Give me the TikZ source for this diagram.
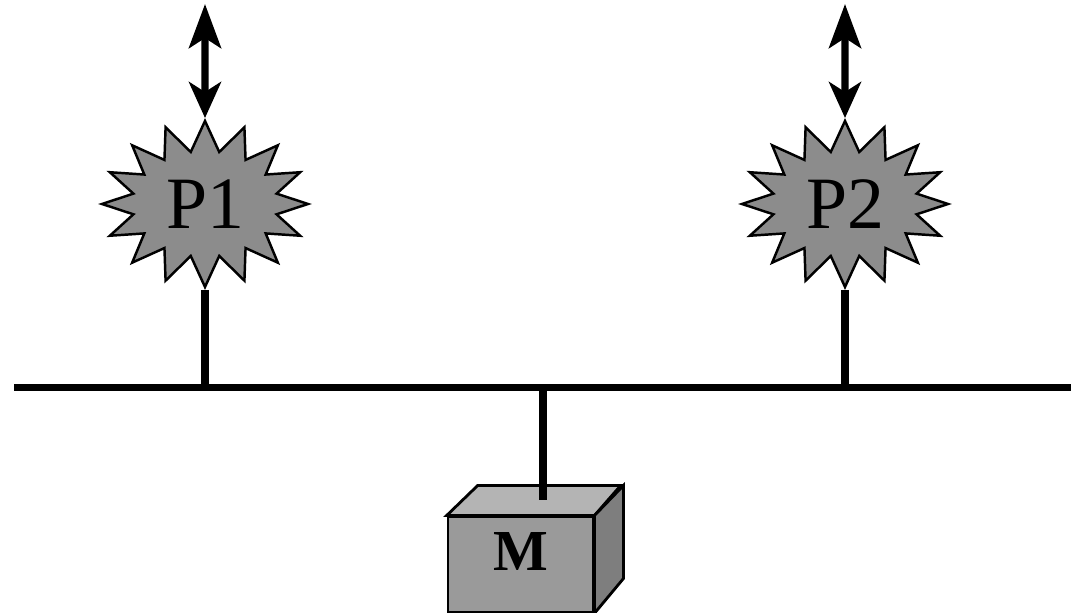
\documentclass[tikz,border=0pt]{standalone}
\usepackage{fontspec}
\setmainfont{LiberationSerif-Regular.ttf}[BoldFont=LiberationSerif-Bold.ttf]
\usetikzlibrary{shapes.symbols,arrows.meta}
\definecolor{starfill}{HTML}{8C8C8C}
\definecolor{frontfill}{HTML}{9A9A9A}
\definecolor{topfill}{HTML}{B4B4B4}
\definecolor{sidefill}{HTML}{7E7E7E}

\begin{document}
\begin{tikzpicture}[proc/.style={starburst, random starburst=0, starburst points=16, starburst point height=0.3cm, draw, line width=0.7pt, fill=starfill, minimum width=2.06cm, minimum height=1.66cm, inner sep=0pt, font=\fontsize{21}{25}\selectfont},
	bus/.style={line width=2pt},
	io/.style={line width=2pt, {Stealth[length=0.44cm,width=0.32cm,inset=0.1cm]}-{Stealth[length=0.36cm,width=0.32cm,inset=0.1cm]}}]
	\useasboundingbox (0,0) rectangle (10.71,6.13);

	\draw[bus] (0.14,2.25) coordinate (b1) -- (10.71,2.25) coordinate (b2);

	\node (p1) at (2.05,4.09) [proc]{P1};
	\node (p2) at (8.45,4.09) [proc]{P2};
	\coordinate (t1) at (2.05,6.09);
	\coordinate (t2) at (8.45,6.09);

	\draw[io] (t1) -- (p1.north);
	\draw[io] (t2) -- (p2.north);
	\draw[bus] (p1.south) -- (p1.south |- b1);
	\draw[bus] (p2.south) -- (p2.south |- b1);

	\node (m) at (5.205,0.485) [draw, line width=0.8pt, fill=frontfill, minimum width=1.45cm, minimum height=0.95cm, inner sep=0pt, text height=0.32cm, text depth=0.2cm, font=\bfseries\fontsize{16.5}{19}\selectfont]{M};
	\draw[line width=0.8pt, fill=topfill] (m.north west) -- ++(0.31,0.30) -- ++(1.43,0) -- (m.north east) -- cycle;
	\draw[line width=0.8pt, fill=sidefill] (m.north east) -- ++(0.29,0.30) -- ++(0,-0.93) -- (m.south east) -- cycle;
	\coordinate (mt) at (5.43,1.13);
	\draw[bus] (mt |- b1) -- (mt);
\end{tikzpicture}
\end{document}
